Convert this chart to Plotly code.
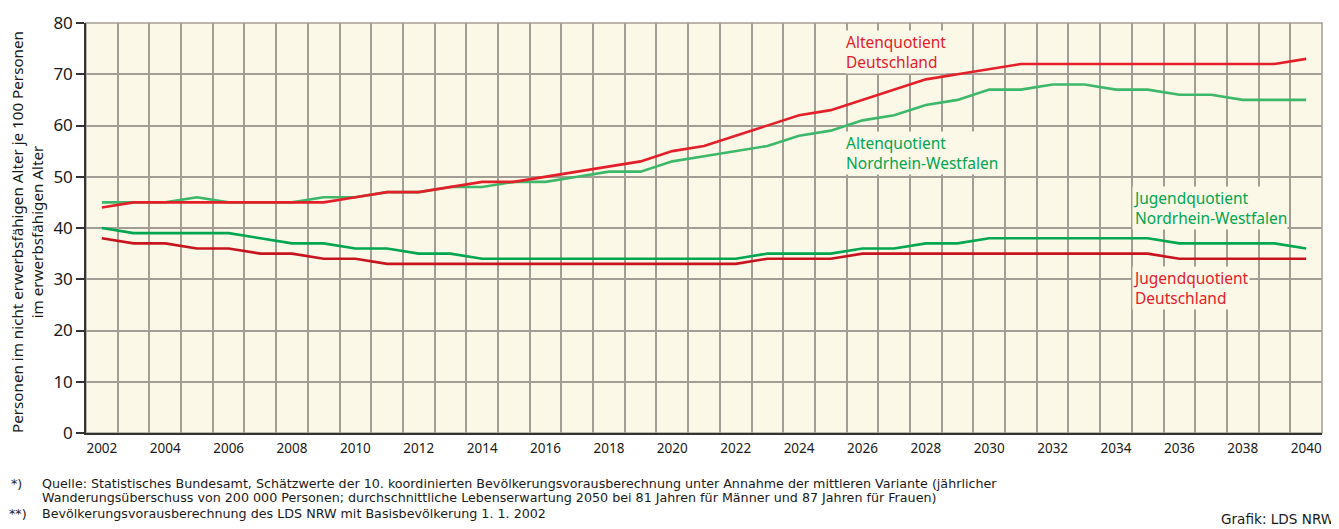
import plotly.graph_objects as go

years = list(range(2002, 2041))

alten_de = [44, 45, 45, 45, 45, 45, 45, 45, 46, 47, 47, 48, 49, 49, 50, 51, 52, 53, 55, 56,
            58, 60, 62, 63, 65, 67, 69, 70, 71, 72, 72, 72, 72, 72, 72, 72, 72, 72, 73]
alten_nrw = [45, 45, 45, 46, 45, 45, 45, 46, 46, 47, 47, 48, 48, 49, 49, 50, 51, 51, 53, 54,
             55, 56, 58, 59, 61, 62, 64, 65, 67, 67, 68, 68, 67, 67, 66, 66, 65, 65, 65]
jugend_nrw = [40, 39, 39, 39, 39, 38, 37, 37, 36, 36, 35, 35, 34, 34, 34, 34, 34, 34, 34, 34,
              34, 35, 35, 35, 36, 36, 37, 37, 38, 38, 38, 38, 38, 38, 37, 37, 37, 37, 36]
jugend_de = [38, 37, 37, 36, 36, 35, 35, 34, 34, 33, 33, 33, 33, 33, 33, 33, 33, 33, 33, 33,
             33, 34, 34, 34, 35, 35, 35, 35, 35, 35, 35, 35, 35, 35, 34, 34, 34, 34, 34]

x_ticks = list(range(2002, 2041, 2))
y_ticks = list(range(0, 81, 10))

FONT = "Noto Sans"
FOOT_FONT = "DejaVu Sans"
RED = "#E3202A"
DARKRED = "#C8141E"
GREEN_L = "#3DB86A"
GREEN = "#00A650"
BG = "#FCF8E7"
GRID = "#A29E96"

# page offset (browser body margin)
OFF = 8

fig = go.Figure()
fig.add_trace(go.Scatter(x=years, y=alten_nrw, mode="lines", line=dict(color=GREEN_L, width=2.6)))
fig.add_trace(go.Scatter(x=years, y=jugend_nrw, mode="lines", line=dict(color=GREEN, width=2.6)))
fig.add_trace(go.Scatter(x=years, y=alten_de, mode="lines", line=dict(color=RED, width=2.6)))
fig.add_trace(go.Scatter(x=years, y=jugend_de, mode="lines", line=dict(color=DARKRED, width=2.6)))

ann = []
def label(x, y, text, color):
    ann.append(dict(x=x, y=y, xref="x", yref="y", text=text, showarrow=False,
                    xanchor="left", yanchor="middle", align="left",
                    font=dict(family=FONT, size=15.5, color=color),
                    bgcolor=BG, borderpad=0))

label(2025.45, 74.4, "Altenquotient<br>Deutschland", RED)
label(2025.45, 54.6, "Altenquotient<br>Nordrhein-Westfalen", GREEN)
label(2034.5, 43.9, "Jugendquotient<br>Nordrhein-Westfalen", GREEN)
label(2034.5, 28.2, "Jugendquotient<br>Deutschland", RED)

# y axis title
ann.append(dict(x=0, y=0.5, xref="paper", yref="paper", xshift=-59, yshift=-4,
                text="Personen im nicht erwerbsfähigen Alter je 100 Personen<br>im erwerbsfähigen Alter",
                textangle=-90, showarrow=False, xanchor="center", yanchor="middle",
                font=dict(family=FONT, size=15.2, color="#1a1a1a")))

PH = 410.0
def foot(px, py, text, xanchor="left", size=12.7):
    ann.append(dict(x=0, y=(433 - py) / PH, xref="paper", yref="paper", xshift=px - 86,
                    text=text, showarrow=False, xanchor=xanchor, yanchor="middle", align="left",
                    font=dict(family=FOOT_FONT, size=size, color="#1a1a1a")))

foot(9, 483, "*)")
foot(40, 483, "Quelle: Statistisches Bundesamt, Schätzwerte der 10. koordinierten Bevölkerungsvorausberechnung unter Annahme der mittleren Variante (jährlicher")
foot(40, 498, "Wanderungsüberschuss von 200 000 Personen; durchschnittliche Lebenserwartung 2050 bei 81 Jahren für Männer und 87 Jahren für Frauen)")
foot(7, 513, "**)")
foot(40, 513, "Bevölkerungsvorausberechnung des LDS NRW mit Basisbevölkerung 1. 1. 2002")
foot(1336, 519, "Grafik: LDS NRW", xanchor="right", size=13.6)

fig.update_layout(
    width=1339 - OFF, height=529 - OFF,
    margin=dict(l=86 - OFF, r=17, t=23 - OFF, b=96),
    paper_bgcolor="white", plot_bgcolor=BG,
    showlegend=False,
    annotations=ann,
    shapes=[dict(type="rect", xref="paper", yref="paper", x0=0, y0=0, x1=1, y1=1,
                 line=dict(color=GRID, width=1.5), layer="below")],
)
fig.update_xaxes(
    range=[2001.5, 2040.5], tickvals=x_ticks, ticktext=[str(v) for v in x_ticks],
    showgrid=False, ticks="", showline=True, linecolor="#333333", linewidth=1.5,
    tickfont=dict(family=FONT, size=13.5, color="#1a1a1a"), ticklabelstandoff=2,
    minor=dict(tick0=2001.5, dtick=1, showgrid=True, gridcolor=GRID, gridwidth=1.5),
    zeroline=False, automargin=False,
)
fig.update_yaxes(
    range=[0, 80], tickvals=y_ticks, showgrid=True, gridcolor=GRID, gridwidth=1.5,
    ticks="outside", ticklen=8, tickcolor="#333333", tickwidth=1.5,
    showline=True, linecolor="#333333", linewidth=1.5, zeroline=False,
    tickfont=dict(family=FONT, size=17, color="#1a1a1a"), automargin=False,
)

fig.write_html("out.html")
